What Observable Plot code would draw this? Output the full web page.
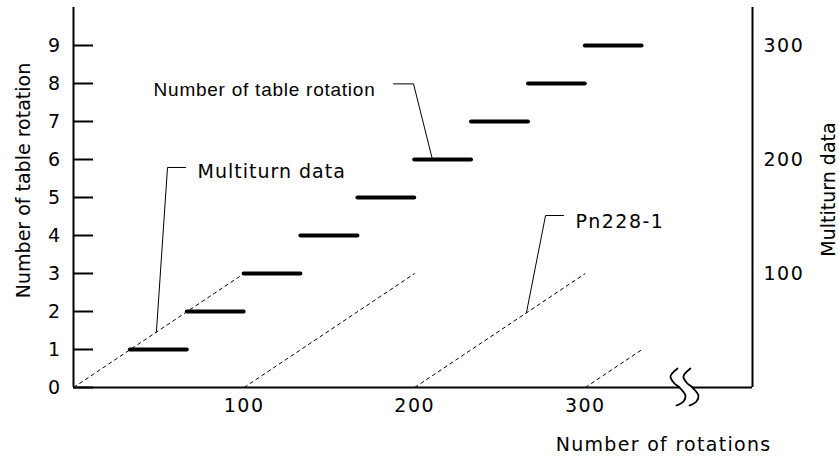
<!DOCTYPE html>
<html><head><meta charset="utf-8">
<script src="https://cdn.jsdelivr.net/npm/d3@7"></script>
<script src="https://cdn.jsdelivr.net/npm/@observablehq/plot@0.6"></script>
<style>body{margin:0;background:#fff}</style>
</head><body><div id="chart"></div>
<script>
// ---- data ----
const tableRotation = [1, 2, 3, 4, 5, 6, 7, 8, 9];
const stepStart = [33.3, 66.7, 100, 133.3, 166.7, 200, 233.3, 266.7, 300];
const stepEnd = [66.7, 100, 133.3, 166.7, 200, 233.3, 266.7, 300, 333.3];
const rampStartX = [0, 100, 200, 300];
const rampEndX = [100, 200, 300, 333.3];
const rampEndY = [3, 3, 3, 1];
const tableTicks = [0, 1, 2, 3, 4, 5, 6, 7, 8, 9];
const rotationTicks = [100, 200, 300];
const multiturnTicks = [100, 200, 300];
const multiturnPerTable = 100 / 3;
const xMax = 398;
const yMax = 10;
const breakAt = [355.2, 362.8];

const annotLabels = ["Multiturn data", "Number of table rotation", "Pn228-1"];
const annotTextX = [72.7, 177.0, 294.3];
const annotTextY = [5.68, 7.82, 4.345];
const annotTailX = [65.7, 187.6, 287.2];
const annotElbowX = [55.1, 199.3, 276.7];
const annotElbowY = [5.79, 7.99, 4.526];
const annotPointX = [48.6, 210.4, 265.5];
const annotPointY = [1.46, 6.0, 1.97];

const xTitle = "Number of rotations";
const yTitle = "Number of table rotation";
const y2Title = "Multiturn data";

// ---- layout ----
const W = 838, H = 456, mL = 73, mR = 86, mT = 7, mB = 69;
const kx = xMax / (W - mL - mR), ky = yMax / (H - mT - mB);
const sShape = [[-2,-19],[-9,-11],[-5,-4],[0,0],[6,8],[4,14],[-3,18]];

const steps = tableRotation.map((y, i) => ({y, x1: stepStart[i], x2: stepEnd[i]}));
const ramps = rampStartX.map((x, i) => ({x1: x, y1: 0, x2: rampEndX[i], y2: rampEndY[i]}));
const leaders = [];
annotLabels.forEach((t, i) => {
  leaders.push({id: i, x: annotTailX[i], y: annotElbowY[i]});
  leaders.push({id: i, x: annotElbowX[i], y: annotElbowY[i]});
  leaders.push({id: i, x: annotPointX[i], y: annotPointY[i]});
});
const annots = annotLabels.map((t, i) => ({t, x: annotTextX[i], y: annotTextY[i]}));
const breakPts = [];
breakAt.forEach((b, j) => sShape.forEach(([dx, dy]) => breakPts.push({g: j, x: b + dx * kx, y: -dy * ky})));
const axisSegs = [{x1: 0, x2: breakAt[0]}, {x1: breakAt[1], x2: xMax}];

const tag = (name) => () => name;

const plot = Plot.plot({
  width: W, height: H,
  marginLeft: mL, marginRight: mR, marginTop: mT, marginBottom: mB,
  x: {domain: [0, xMax]},
  y: {domain: [0, yMax]},
  style: {fontFamily: "DejaVu Sans", fontSize: "19px", background: "white", color: "black", overflow: "visible"},
  marks: [
    Plot.link(ramps, {x1: "x1", y1: "y1", x2: "x2", y2: "y2", stroke: "black", strokeWidth: 1, strokeDasharray: "4,3"}),
    Plot.ruleY(steps, {y: "y", x1: "x1", x2: "x2", stroke: "black", strokeWidth: 4, strokeLinecap: "round"}),
    Plot.line(leaders, {x: "x", y: "y", z: "id", stroke: "black", strokeWidth: 1}),
    // axes lines
    Plot.ruleX([0], {y1: 0, y2: yMax, stroke: "black", strokeWidth: 2}),
    Plot.ruleX([xMax], {y1: 0, y2: yMax, stroke: "black", strokeWidth: 2}),
    Plot.ruleY(axisSegs, {y: 0, x1: "x1", x2: "x2", stroke: "black", strokeWidth: 2}),
    Plot.line(breakPts, {x: "x", y: "y", z: "g", curve: "catmull-rom", stroke: "black", strokeWidth: 1.8}),
    // ticks & labels
    Plot.axisY({ticks: tableTicks, anchor: "left", tickSize: 20, dx: 20, strokeWidth: 2, tickFormat: () => "", label: null}),
    Plot.axisY({ticks: tableTicks, anchor: "left", tickSize: 0, tickPadding: 12, label: null}),
    Plot.axisY({ticks: multiturnTicks.map(m => m / multiturnPerTable), anchor: "right", tickSize: 0, tickPadding: 11, label: null,
      tickFormat: d => String(Math.round(d * multiturnPerTable))}),
    Plot.axisX({ticks: rotationTicks, anchor: "bottom", tickSize: 0, tickPadding: 11, label: null}),
    // titles
    Plot.text([yTitle], {frameAnchor: "left", textAnchor: "middle", lineAnchor: "middle", rotate: -90, dx: 23 - mL, dy: -17}),
    Plot.text([y2Title], {frameAnchor: "right", textAnchor: "middle", lineAnchor: "middle", rotate: -90, dx: 76, dy: -8}),
    Plot.text([xTitle], {frameAnchor: "bottom-right", textAnchor: "end", lineAnchor: "middle", dx: 19, dy: 57, ariaLabel: tag("xtitle")}),
    // annotations
    Plot.text([annots[0]], {x: "x", y: "y", text: "t", textAnchor: "start", lineAnchor: "middle", ariaLabel: tag("annot-a")}),
    Plot.text([annots[1]], {x: "x", y: "y", text: "t", textAnchor: "end", lineAnchor: "middle", fontFamily: "Liberation Sans", ariaLabel: tag("annot-b")}),
    Plot.text([annots[2]], {x: "x", y: "y", text: "t", textAnchor: "start", lineAnchor: "middle", ariaLabel: tag("annot-c")})
  ]
});
document.getElementById("chart").appendChild(plot);
const svg = d3.select(plot);
const ls = (sel, v) => svg.selectAll(sel).style("letter-spacing", v);
ls('g[aria-label="x-axis tick label"] text', "1.5px");
ls('g[aria-label="y-axis tick label"] text', "1.5px");
ls('[aria-label="xtitle"]', "1.3px");
ls('[aria-label="annot-a"]', "1px");
ls('[aria-label="annot-b"]', "0.75px");
ls('[aria-label="annot-c"]', "1.5px");
</script></body></html>
